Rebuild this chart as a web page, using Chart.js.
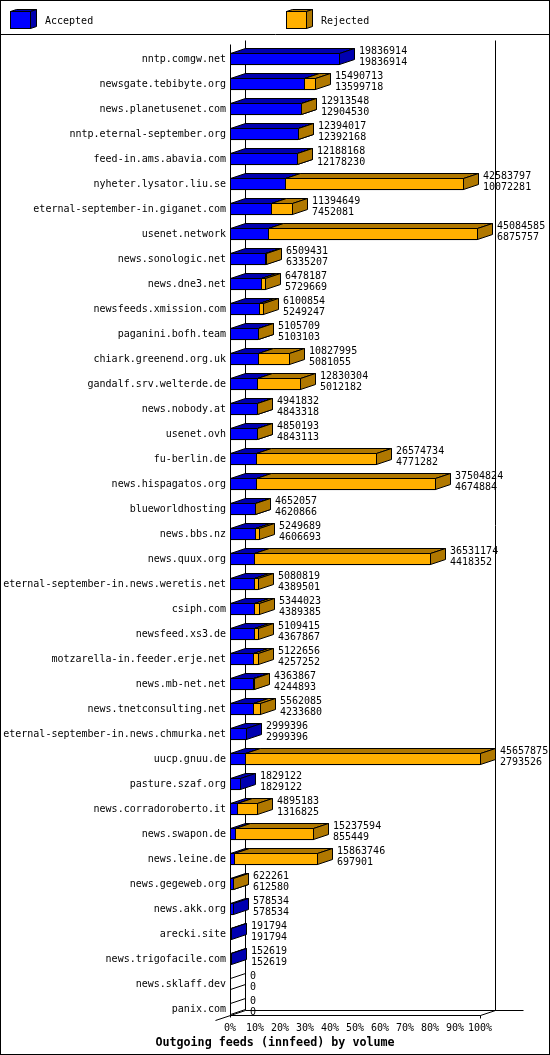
<!DOCTYPE html>
<html>
<head>
<meta charset="utf-8">
<script src="https://cdn.jsdelivr.net/npm/chart.js@4.4.1/dist/chart.umd.min.js"></script>
<style>
  html, body { margin: 0; padding: 0; background: #fff; }
  #wrap { width: 550px; height: 1055px; }
</style>
</head>
<body>
<div id="wrap"><canvas id="feeds" width="550" height="1055"></canvas></div>
<script>
// --- Data ---
const peers = [
    'nntp.comgw.net', 'newsgate.tebibyte.org', 'news.planetusenet.com', 'nntp.eternal-september.org',
    'feed-in.ams.abavia.com', 'nyheter.lysator.liu.se', 'eternal-september-in.giganet.com', 'usenet.network',
    'news.sonologic.net', 'news.dne3.net', 'newsfeeds.xmission.com', 'paganini.bofh.team',
    'chiark.greenend.org.uk', 'gandalf.srv.welterde.de', 'news.nobody.at', 'usenet.ovh',
    'fu-berlin.de', 'news.hispagatos.org', 'blueworldhosting', 'news.bbs.nz',
    'news.quux.org', 'eternal-september-in.news.weretis.net', 'csiph.com', 'newsfeed.xs3.de',
    'motzarella-in.feeder.erje.net', 'news.mb-net.net', 'news.tnetconsulting.net', 'eternal-september-in.news.chmurka.net',
    'uucp.gnuu.de', 'pasture.szaf.org', 'news.corradoroberto.it', 'news.swapon.de',
    'news.leine.de', 'news.gegeweb.org', 'news.akk.org', 'arecki.site',
    'news.trigofacile.com', 'news.sklaff.dev', 'panix.com'
];
const totalVolume = [
    19836914, 15490713, 12913548, 12394017, 12188168, 42583797, 11394649, 45084585,
    6509431, 6478187, 6100854, 5105709, 10827995, 12830304, 4941832, 4850193,
    26574734, 37504824, 4652057, 5249689, 36531174, 5080819, 5344023, 5109415,
    5122656, 4363867, 5562085, 2999396, 45657875, 1829122, 4895183, 15237594,
    15863746, 622261, 578534, 191794, 152619, 0, 0
];
const acceptedVolume = [
    19836914, 13599718, 12904530, 12392168, 12178230, 10072281, 7452081, 6875757,
    6335207, 5729669, 5249247, 5103103, 5081055, 5012182, 4843318, 4843113,
    4771282, 4674884, 4620866, 4606693, 4418352, 4389501, 4389385, 4367867,
    4257252, 4244893, 4233680, 2999396, 2793526, 1829122, 1316825, 855449,
    697901, 612580, 578534, 191794, 152619, 0, 0
];
const tickPercents = [0, 10, 20, 30, 40, 50, 60, 70, 80, 90, 100];
const seriesNames = ['Accepted', 'Rejected'];
const titleText = 'Outgoing feeds (innfeed) by volume';

const rejectedVolume = totalVolume.map((t, i) => t - acceptedVolume[i]);
const maxVolume = Math.max(...totalVolume);

// --- Look ---
const FRONT = ['#0000ff', '#ffb000'];
const SHADE = ['#0000b0', '#b07800'];
const MONO = '"DejaVu Sans Mono", monospace';
const DX = 15, DY = 5;   // 3d depth offset

function poly(ctx, pts, fill) {
    ctx.beginPath();
    ctx.moveTo(pts[0][0], pts[0][1]);
    for (let i = 1; i < pts.length; i++) ctx.lineTo(pts[i][0], pts[i][1]);
    ctx.closePath();
    if (fill) { ctx.fillStyle = fill; ctx.fill(); }
    ctx.stroke();
}

function line(ctx, x1, y1, x2, y2) {
    ctx.beginPath();
    ctx.moveTo(x1 + 0.5, y1 + 0.5);
    ctx.lineTo(x2 + 0.5, y2 + 0.5);
    ctx.stroke();
}

// front face + top + side, all in whole pixels
function block(ctx, L, R, T, B, front, shade, dx, dy) {
    ctx.fillStyle = front;
    ctx.fillRect(L, T, R - L + 1, B - T + 1);
    ctx.strokeRect(L + 0.5, T + 0.5, R - L, B - T);
    poly(ctx, [[L + .5, T + .5], [L + .5 + dx, T + .5 - dy], [R + .5 + dx, T + .5 - dy], [R + .5, T + .5]], shade);
    poly(ctx, [[R + .5, T + .5], [R + .5 + dx, T + .5 - dy], [R + .5 + dx, B + .5 - dy], [R + .5, B + .5]], shade);
}

const shelfPlugin = {
    id: 'shelf',
    beforeDatasetsDraw(chart) {
        const ctx = chart.ctx, xs = chart.scales.x, ys = chart.scales.y;
        const x0 = Math.round(xs.getPixelForValue(0));
        const x1 = Math.round(xs.getPixelForValue(maxVolume));
        const floor = Math.round(ys.getPixelForValue(peers.length - 1)) + 6;
        const top = 40;
        ctx.save();
        ctx.strokeStyle = '#000';
        ctx.lineWidth = 1;
        line(ctx, x0 + DX, top, x0 + DX, floor - DY);
        line(ctx, x1 + DX, top, x1 + DX, floor - DY);
        line(ctx, x0 + DX, floor - DY, x1 + DX + 28, floor - DY);
        line(ctx, x0, floor, x1, floor);
        line(ctx, x1, floor, x1 + DX, floor - DY);
        line(ctx, x0 - DX, floor + DY, x0 + DX, floor - DY);
        line(ctx, x0, top + 4, x0, floor + 2);
        line(ctx, x1, floor, x1, floor + 3);
        ctx.restore();
    },
    afterDatasetsDraw(chart) {
        const ctx = chart.ctx, xs = chart.scales.x;
        const metas = [chart.getDatasetMeta(0), chart.getDatasetMeta(1)];
        const x0 = Math.round(xs.getPixelForValue(0));
        ctx.save();
        ctx.strokeStyle = '#000';
        ctx.lineWidth = 1;
        peers.forEach((p, j) => {
            const ref = metas[0].data[j].getProps(['y', 'height'], true);
            const T = Math.round(ref.y - ref.height / 2);
            const B = T + ref.height - 1;
            if (totalVolume[j] === 0) {
                poly(ctx, [[x0 + .5, T + .5], [x0 + .5 + DX, T + .5 - DY], [x0 + .5 + DX, B + .5 - DY], [x0 + .5, B + .5]], null);
            }
            metas.forEach((meta, k) => {
                const v = chart.data.datasets[k].data[j];
                if (v <= 0) return;
                const el = meta.data[j].getProps(['x', 'base'], true);
                block(ctx, Math.round(el.base), Math.round(el.x), T, B, FRONT[k], SHADE[k], DX, DY);
            });
            // total / accepted numbers
            const end = Math.round(xs.getPixelForValue(totalVolume[j])) + DX + 5;
            ctx.fillStyle = '#000';
            ctx.font = '10px ' + MONO;
            ctx.textAlign = 'left';
            ctx.textBaseline = 'alphabetic';
            ctx.fillText(String(totalVolume[j]), end, Math.round(ref.y) - 5);
            ctx.fillText(String(acceptedVolume[j]), end, Math.round(ref.y) + 6);
        });
        ctx.restore();
    },
    afterDraw(chart) {
        const ctx = chart.ctx;
        ctx.save();
        ctx.strokeStyle = '#000';
        ctx.lineWidth = 1;
        ctx.strokeRect(0.5, 0.5, chart.width - 1, chart.height - 1);
        line(ctx, 0, 34, chart.width, 34);
        // legend
        const spots = [10, 286];
        ctx.font = '10px ' + MONO;
        ctx.textBaseline = 'alphabetic';
        ctx.textAlign = 'left';
        chart.data.datasets.forEach((ds, k) => {
            const L = spots[k];
            block(ctx, L, L + 20, 11, 28, ds.backgroundColor, SHADE[k], 6, 2);
            ctx.fillStyle = '#000';
            ctx.fillText(ds.label, L + 35, 24);
        });
        ctx.restore();
    }
};

new Chart(document.getElementById('feeds'), {
    type: 'bar',
    data: {
        labels: peers,
        datasets: [
            { label: seriesNames[0], data: acceptedVolume, backgroundColor: FRONT[0] },
            { label: seriesNames[1], data: rejectedVolume, backgroundColor: FRONT[1] }
        ]
    },
    options: {
        indexAxis: 'y',
        responsive: false,
        animation: false,
        devicePixelRatio: 1,
        events: [],
        datasets: { bar: { barThickness: 12, borderWidth: 1, borderColor: '#000', borderSkipped: false } },
        layout: { padding: { top: 46.5, left: 0, right: 0, bottom: 0 } },
        plugins: {
            legend: { display: false },
            tooltip: { enabled: false },
            title: {
                display: true, position: 'bottom', text: titleText, color: '#000',
                font: { family: MONO, size: 11.7, weight: 'bold', lineHeight: '14px' },
                padding: { top: 0, bottom: 5 }
            }
        },
        scales: {
            x: {
                type: 'linear', stacked: true, min: 0, max: maxVolume,
                grid: { display: false, drawTicks: false }, border: { display: false },
                afterBuildTicks: s => { s.ticks = tickPercents.map(p => ({ value: maxVolume * p / 100 })); },
                afterFit: s => { s.height = 14.5; },
                ticks: {
                    autoSkip: false, maxRotation: 0, padding: 1, color: '#000',
                    font: { family: MONO, size: 10 },
                    callback: (v, i) => tickPercents[i] + '%'
                }
            },
            y: {
                type: 'category', stacked: true, position: 'left',
                grid: { display: false, drawTicks: false }, border: { display: false },
                afterFit: s => { s.width = 230; },
                ticks: { autoSkip: false, padding: 4, color: '#000', font: { family: MONO, size: 10 } }
            },
            y2: {
                type: 'category', position: 'right',
                grid: { display: false, drawTicks: false }, border: { display: false },
                ticks: { display: false },
                afterFit: s => { s.width = 70; }
            }
        }
    },
    plugins: [shelfPlugin]
});
</script>
</body>
</html>
